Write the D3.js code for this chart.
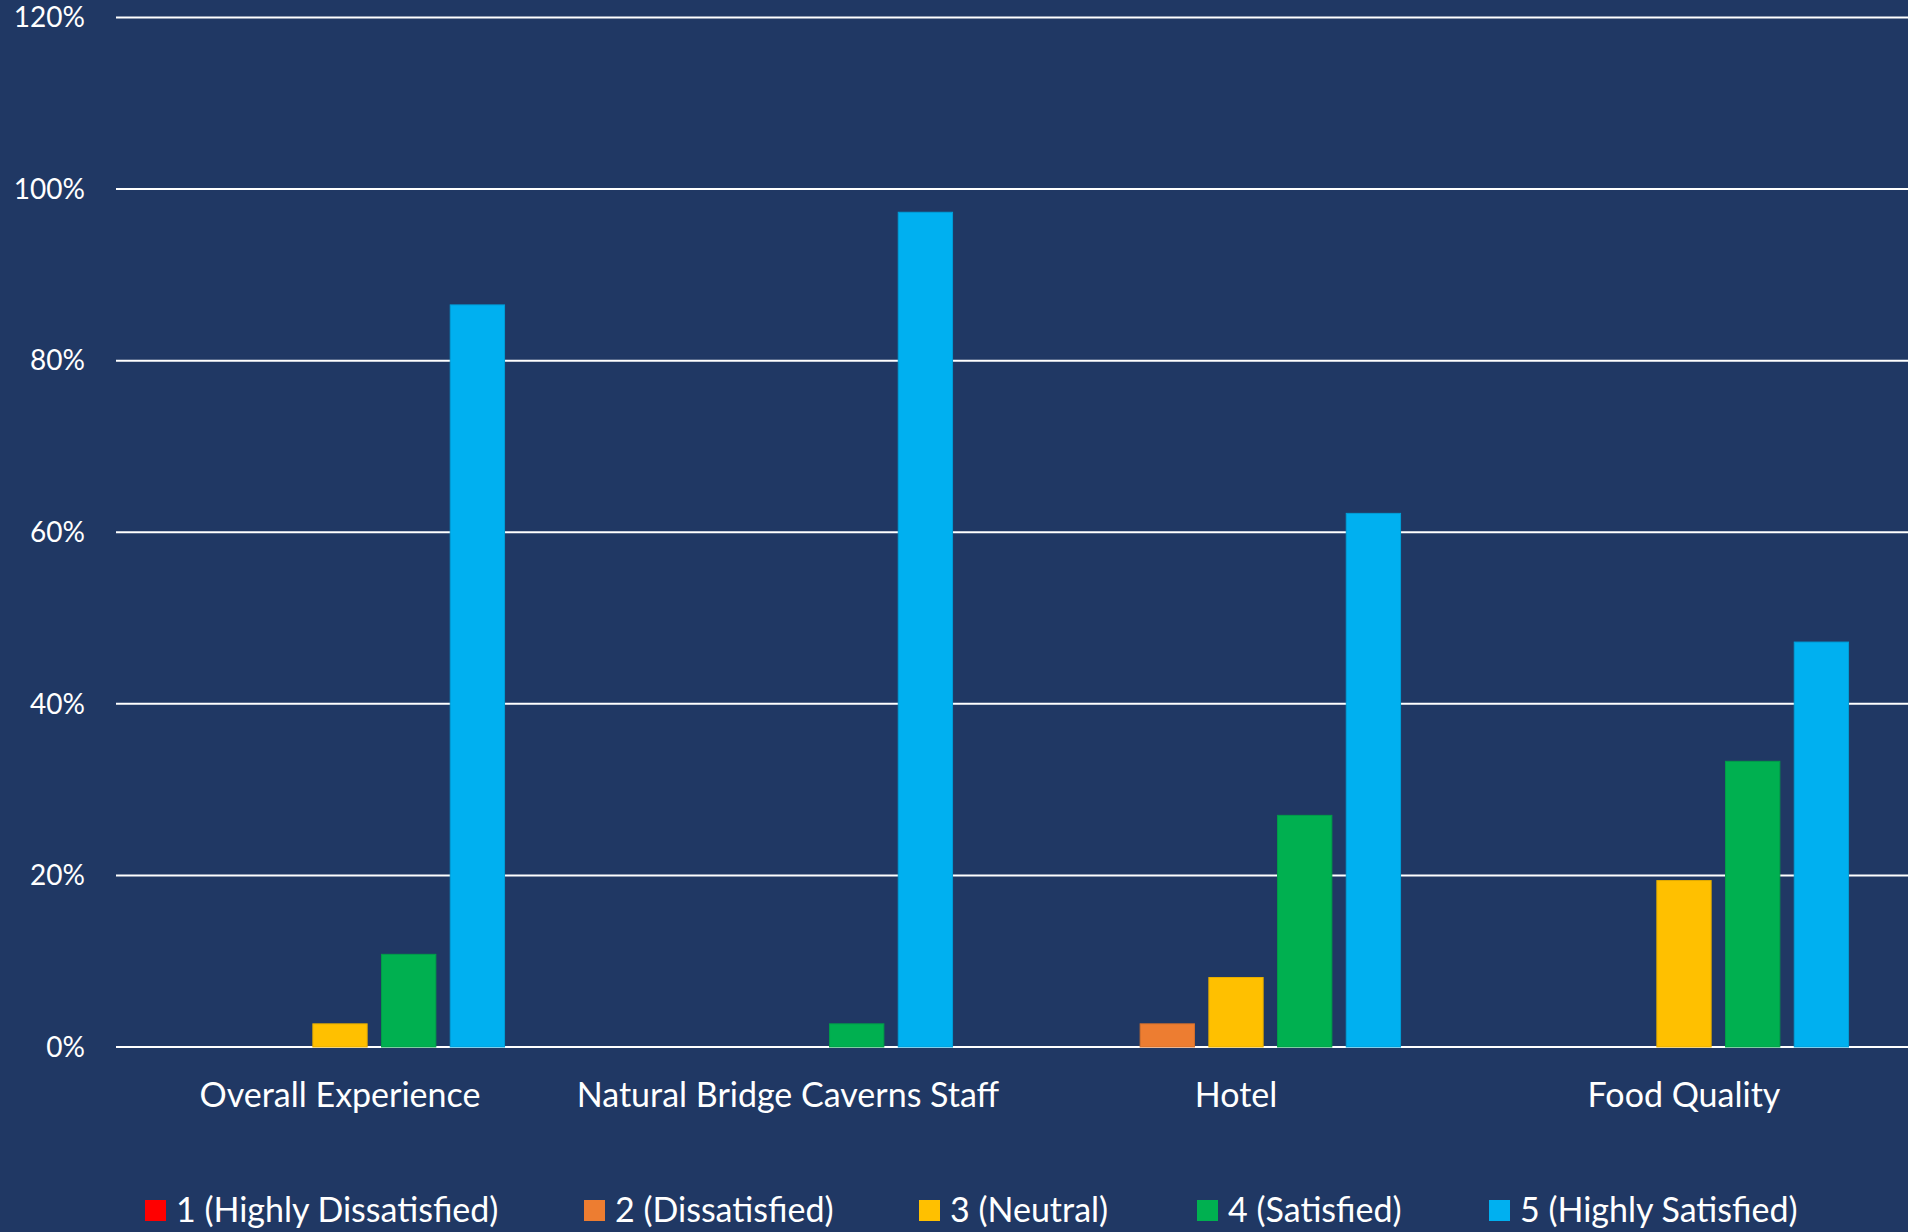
<!DOCTYPE html>
<html lang="en">
  <head>
    <meta charset="utf-8">
    <title>Satisfaction</title>
    <script src="https://d3js.org/d3.v7.min.js"></script>
    <style>
      body { margin: 0; background: #203864; }
      text { font-family: Lato, "Noto Sans", sans-serif; fill: #ffffff; }
    </style>
  </head>

  <body>

    <script>

// data
  var categories = ["Overall Experience", "Natural Bridge Caverns Staff", "Hotel", "Food Quality"];
  var seriesNames = ["1 (Highly Dissatisfied)", "2 (Dissatisfied)", "3 (Neutral)", "4 (Satisfied)", "5 (Highly Satisfied)"];
  var seriesColors = ["#ff0000", "#ed7d31", "#ffc000", "#00b050", "#00b0f0"];
  var highlyDissatisfied = [0, 0, 0, 0];
  var dissatisfied = [0, 0, 2.7, 0];
  var neutral = [2.7, 0, 8.1, 19.4];
  var satisfied = [10.8, 2.7, 27.0, 33.3];
  var highlySatisfied = [86.5, 97.3, 62.2, 47.2];
  var yTicks = [0, 20, 40, 60, 80, 100, 120];

  var series = [highlyDissatisfied, dissatisfied, neutral, satisfied, highlySatisfied];

  var W = 1908, H = 1232;
  var plotLeft = 116, plotRight = 1908, plotTop = 17.5, plotBottom = 1047;

  var svg = d3.select("body")
    .append("svg")
      .attr("width", W)
      .attr("height", H);

  svg.append("rect")
      .attr("width", W)
      .attr("height", H)
      .attr("fill", "#203864");

  var y = d3.scaleLinear().domain([0, 120]).range([plotBottom, plotTop]);

  var x0 = d3.scaleBand().domain(categories).range([plotLeft, plotRight]).paddingInner(0).paddingOuter(0);

  // bars step 68.7 px, bar width 54.3 px in a 448 px category
  var clusterW = 4 * 68.7 + 54.3;
  var x1 = d3.scaleBand().domain(d3.range(5))
      .range([(x0.bandwidth() - clusterW) / 2, (x0.bandwidth() + clusterW) / 2])
      .paddingInner(14.4 / 68.7).paddingOuter(0);

  // gridlines
  svg.selectAll(".grid")
      .data(yTicks)
    .enter().append("line")
      .attr("x1", plotLeft)
      .attr("x2", plotRight)
      .attr("y1", d => y(d))
      .attr("y2", d => y(d))
      .attr("stroke", "#ffffff")
      .attr("stroke-width", 2);

  // y labels
  svg.selectAll(".ylab")
      .data(yTicks)
    .enter().append("text")
      .attr("x", 85)
      .attr("y", d => y(d))
      .attr("dy", "0.35em")
      .attr("text-anchor", "end")
      .attr("font-size", 28)
      .text(d => d + "%");

  // bars
  series.forEach(function (vals, s) {
    svg.selectAll(".s" + s)
        .data(vals)
      .enter().append("rect")
        .attr("x", (d, i) => x0(categories[i]) + x1(s))
        .attr("y", d => y(d))
        .attr("width", x1.bandwidth())
        .attr("height", d => y(0) - y(d))
        .attr("fill", seriesColors[s])
        .attr("stroke", d3.color(seriesColors[s]).darker(0.3))
        .attr("stroke-width", d => d > 0 ? 1 : 0);
  });

  // category labels
  svg.selectAll(".cat")
      .data(categories)
    .enter().append("text")
      .attr("x", d => x0(d) + x0.bandwidth() / 2)
      .attr("y", 1107)
      .attr("text-anchor", "middle")
      .attr("font-size", 34)
      .text(d => d);

  // legend
  var legendX = [145, 584, 919, 1197, 1489];
  var leg = svg.selectAll(".leg")
      .data(seriesNames)
    .enter().append("g")
      .attr("transform", (d, i) => "translate(" + legendX[i] + ",1200)");

  leg.append("rect")
      .attr("width", 21)
      .attr("height", 21)
      .attr("fill", (d, i) => seriesColors[i]);

  leg.append("text")
      .attr("x", 31)
      .attr("y", 22)
      .attr("font-size", 34)
      .text(d => d);

    </script>

  </body>

</html>
